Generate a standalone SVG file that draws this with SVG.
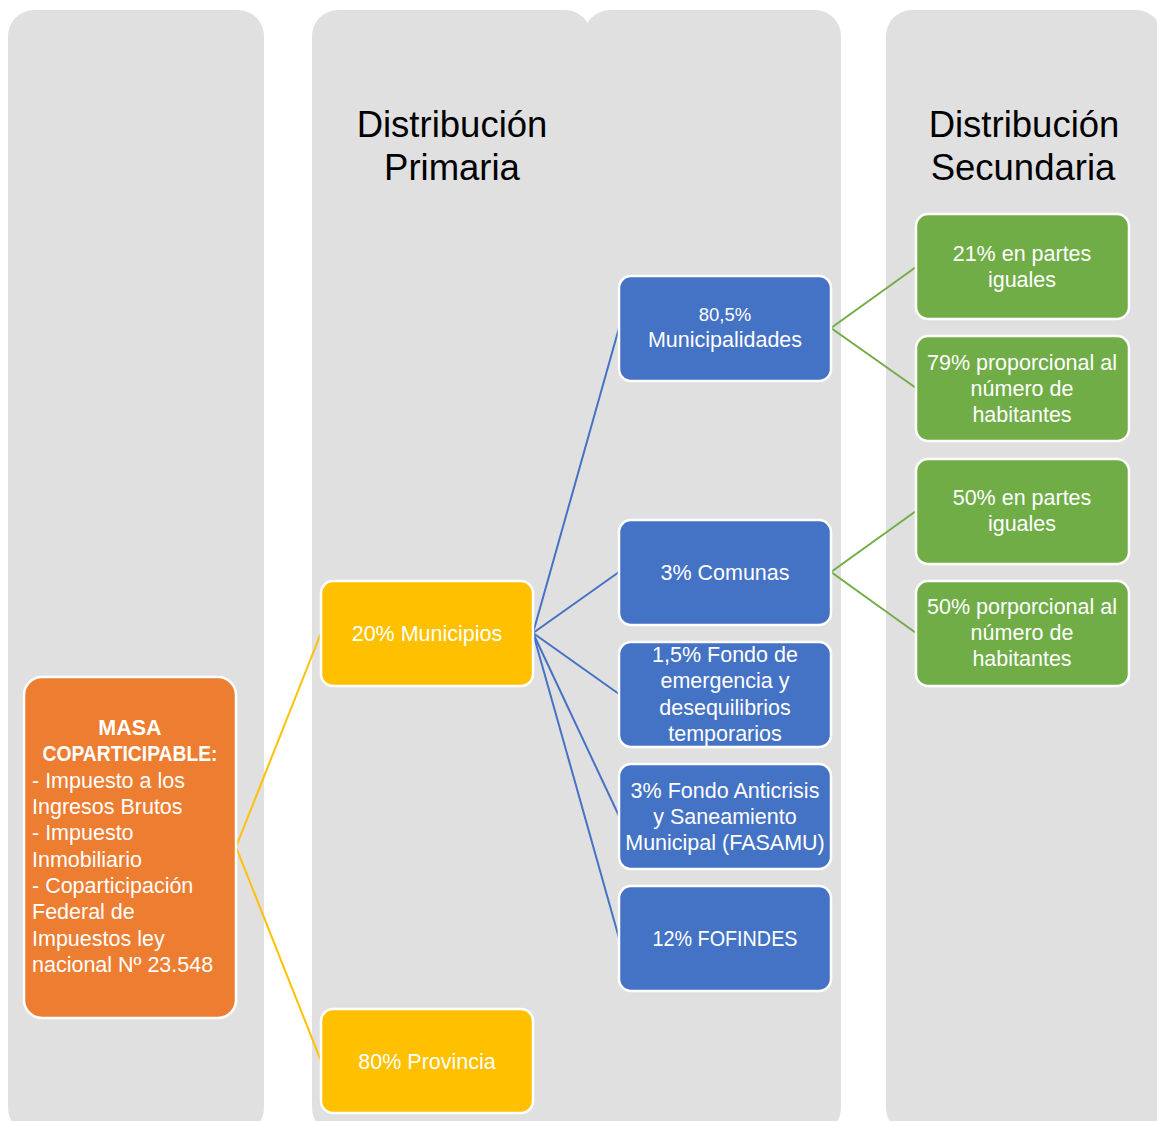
<svg xmlns="http://www.w3.org/2000/svg" width="1157" height="1121" viewBox="0 0 1157 1121">
<defs>
<style>
.col{fill:#e0e0e0}
.title{font-family:"Liberation Sans",Arial,sans-serif;font-size:36.5px;fill:#000;text-anchor:middle}
.nd{stroke:#fff;stroke-width:2.5}
.or{fill:#ed7d31}
.ye{fill:#ffc000}
.bl{fill:#4472c4}
.gr{fill:#70ad47}
.t{font-family:"Liberation Sans",Arial,sans-serif;font-size:21.5px;fill:#fff;text-anchor:middle}
.tl{font-family:"Liberation Sans",Arial,sans-serif;font-size:21.5px;fill:#fff}
.b{font-weight:bold}
.cy{stroke:#ffc000;stroke-width:2;fill:none}
.cb{stroke:#4472c4;stroke-width:2;fill:none}
.cg{stroke:#70ad47;stroke-width:2;fill:none}
</style>
</defs>
<rect width="1157" height="1121" fill="#fff"/>
<g id="columns">
<rect class="col" x="8" y="10" width="256" height="1124" rx="26"/>
<rect class="col" x="312" y="10" width="279" height="1124" rx="26"/>
<rect class="col" x="584" y="10" width="257" height="1124" rx="26"/>
<rect class="col" x="886" y="10" width="276" height="1124" rx="26"/>
</g>
<g id="titles">
<text class="title" x="452" y="137">Distribución</text>
<text class="title" x="452" y="180">Primaria</text>
<text class="title" x="1024" y="137">Distribución</text>
<text class="title" x="1023" y="180">Secundaria</text>
</g>
<g id="connectors">
<line class="cy" x1="236" y1="847" x2="321" y2="633"/>
<line class="cy" x1="236" y1="847" x2="321" y2="1061"/>
<line class="cb" x1="533" y1="633" x2="619" y2="328"/>
<line class="cb" x1="533" y1="633" x2="619" y2="572"/>
<line class="cb" x1="533" y1="633" x2="619" y2="694"/>
<line class="cb" x1="533" y1="633" x2="619" y2="816"/>
<line class="cb" x1="533" y1="633" x2="619" y2="938"/>
<line class="cg" x1="831" y1="328" x2="916" y2="267"/>
<line class="cg" x1="831" y1="328" x2="916" y2="388"/>
<line class="cg" x1="831" y1="572" x2="916" y2="511"/>
<line class="cg" x1="831" y1="572" x2="916" y2="633"/>
</g>
<g id="masa">
<rect class="nd or" x="24" y="677" width="212" height="341" rx="18"/>
<text class="t b" x="130" y="735">MASA</text>
<text class="t b" x="130" y="761" textLength="175" lengthAdjust="spacingAndGlyphs">COPARTICIPABLE:</text>
<text class="tl" x="32" y="788">- Impuesto a los</text>
<text class="tl" x="32" y="814">Ingresos Brutos</text>
<text class="tl" x="32" y="840">- Impuesto</text>
<text class="tl" x="32" y="867">Inmobiliario</text>
<text class="tl" x="32" y="893">- Coparticipación</text>
<text class="tl" x="32" y="919">Federal de</text>
<text class="tl" x="32" y="946">Impuestos ley</text>
<text class="tl" x="32" y="972">nacional Nº 23.548</text>
</g>
<g id="municipios">
<rect class="nd ye" x="321" y="581" width="212" height="105" rx="12"/>
<text class="t" x="427" y="641">20% Municipios</text>
</g>
<g id="provincia">
<rect class="nd ye" x="321" y="1009" width="212" height="104" rx="12"/>
<text class="t" x="427" y="1069">80% Provincia</text>
</g>
<g id="municipalidades">
<rect class="nd bl" x="619" y="276" width="212" height="105" rx="12"/>
<text class="t" x="725" y="321" style="font-size:18.5px">80,5%</text>
<text class="t" x="725" y="347">Municipalidades</text>
</g>
<g id="comunas">
<rect class="nd bl" x="619" y="520" width="212" height="105" rx="12"/>
<text class="t" x="725" y="580">3% Comunas</text>
</g>
<g id="fondo-emergencia">
<rect class="nd bl" x="619" y="642" width="212" height="105" rx="12"/>
<text class="t" x="725" y="662">1,5% Fondo de</text>
<text class="t" x="725" y="688">emergencia y</text>
<text class="t" x="725" y="715">desequilibrios</text>
<text class="t" x="725" y="741">temporarios</text>
</g>
<g id="fasamu">
<rect class="nd bl" x="619" y="764" width="212" height="105" rx="12"/>
<text class="t" x="725" y="798">3% Fondo Anticrisis</text>
<text class="t" x="725" y="824">y Saneamiento</text>
<text class="t" x="725" y="850">Municipal (FASAMU)</text>
</g>
<g id="fofindes">
<rect class="nd bl" x="619" y="886" width="212" height="105" rx="12"/>
<text class="t" x="725" y="946" textLength="145" lengthAdjust="spacingAndGlyphs">12% FOFINDES</text>
</g>
<g id="mun-iguales">
<rect class="nd gr" x="916" y="214" width="213" height="105" rx="12"/>
<text class="t" x="1022" y="261">21% en partes</text>
<text class="t" x="1022" y="287">iguales</text>
</g>
<g id="mun-proporcional">
<rect class="nd gr" x="916" y="336" width="213" height="105" rx="12"/>
<text class="t" x="1022" y="370">79% proporcional al</text>
<text class="t" x="1022" y="396">número de</text>
<text class="t" x="1022" y="422">habitantes</text>
</g>
<g id="com-iguales">
<rect class="nd gr" x="916" y="459" width="213" height="105" rx="12"/>
<text class="t" x="1022" y="505">50% en partes</text>
<text class="t" x="1022" y="531">iguales</text>
</g>
<g id="com-proporcional">
<rect class="nd gr" x="916" y="581" width="213" height="105" rx="12"/>
<text class="t" x="1022" y="614">50% porporcional al</text>
<text class="t" x="1022" y="640">número de</text>
<text class="t" x="1022" y="666">habitantes</text>
</g>
</svg>
